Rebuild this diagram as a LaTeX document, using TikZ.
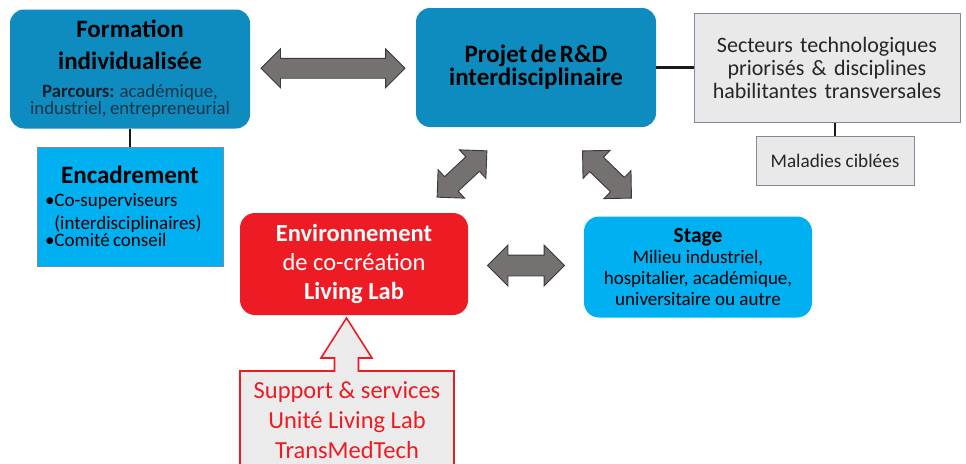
\documentclass[tikz,border=0pt]{standalone}
\usepackage{fontspec}
\setmainfont{Carlito}
\usetikzlibrary{shapes.arrows,calc}

\definecolor{deepblue}{HTML}{0F8CBF}
\definecolor{skyblue}{HTML}{00B0F0}
\definecolor{livered}{HTML}{ED1C24}
\definecolor{panelgrey}{HTML}{E9E9E9}
\definecolor{paneledge}{HTML}{7F8B9C}
\definecolor{arrowgrey}{HTML}{767171}
\definecolor{arrowedge}{HTML}{3B3838}
\definecolor{navyink}{HTML}{0B1F2C}
\definecolor{slateink}{HTML}{133549}
\definecolor{darkink}{HTML}{262626}

\newcommand{\boxtitle}{\fontsize{25}{32}\selectfont\bfseries}
\newcommand{\boxbody}{\fontsize{18.8}{22.5}\selectfont\mdseries}

\tikzset{
  bluebox/.style={rounded corners=14pt, fill=deepblue, minimum width=240pt,
    minimum height=119pt, text width=232pt, align=center, inner sep=0pt},
  greybox/.style={draw=paneledge, fill=panelgrey, line width=1pt,
    align=center, inner sep=0pt},
  blockarrow/.style={double arrow, fill=arrowgrey, draw=arrowedge,
    line width=0.9pt, minimum height=#1, minimum width=0pt,
    inner xsep=0pt, inner ysep=9.5pt, double arrow head extend=9.5pt},
  link/.style={line width=2.4pt, color=black!90}
}

\begin{document}
\begin{tikzpicture}[x=1pt,y=-1pt]
  \useasboundingbox (0,0) rectangle (966,463);

  % top row
  \node[bluebox] (form) at (130,69) {\boxtitle Formation\\individualisée\par
    \vspace{5pt}\boxbody{\color{navyink}\bfseries Parcours:} {\color{slateink}académique,\\industriel, entrepreneurial}};
  \node[bluebox] (proj) at (536,67.5) {\boxtitle Projet de R\&D\\interdisciplinaire};
  \node[greybox, minimum width=266pt, minimum height=109pt, text width=262pt,
    text=darkink, font=\fontsize{22}{23}\selectfont] (sect) at (827,67.5)
    {Secteurs technologiques\\priorisés \& disciplines\\habilitantes transversales};
  \node[greybox, minimum width=158pt, minimum height=49pt, text=darkink,
    font=\fontsize{19.2}{23}\selectfont] (mal) at (835,161) {Maladies ciblées};

  % encadrement
  \node[draw=paneledge, line width=0.8pt, fill=skyblue, minimum width=186pt,
    minimum height=119pt, text width=170pt, inner xsep=8pt, align=left] (enc) at (130,206.5)
    {{\centering\fontsize{25}{28}\selectfont\bfseries Encadrement\par}
     \fontsize{19}{23}\selectfont •Co-superviseurs\\
     \phantom{•}(interdisciplinaires)\\•Comité conseil};

  % bottom row
  \node[rounded corners=15pt, fill=livered, minimum width=228pt, minimum height=102pt,
    text=white, align=center, font=\fontsize{24.5}{29}\selectfont] (env) at (354,264)
    {{\bfseries Environnement}\\de co-création\\{\bfseries Living Lab}};
  \node[rounded corners=15pt, fill=skyblue, minimum width=228pt, minimum height=101pt,
    align=center, font=\fontsize{19}{21}\selectfont] (stage) at (698,267)
    {{\fontsize{21.5}{21}\selectfont\bfseries Stage}\\Milieu industriel,\\hospitalier, académique,\\universitaire ou autre};

  % links
  \draw[link] (proj.east) -- (sect.west);
  \draw[link] (form.south) -- (enc.north);
  \draw[link] (mal.north) -- (mal.north |- sect.south);

  % block arrows
  \node[blockarrow=144pt] (formproj) at ($(form.east)!0.5!(proj.west)$) {};
  \node[blockarrow=68pt, rotate=43] (projenv) at (462,174) {};
  \node[blockarrow=68pt, rotate=-44] (projstage) at (607,174.5) {};
  \node[blockarrow=77pt, inner ysep=10pt, double arrow head extend=10pt] (envstage)
    at ($(env.east)!0.5!(stage.west)$) {};

  % support
  \draw[draw=livered, fill=panelgrey!90!white, line width=1.6pt, line join=miter]
    (240,480) -- (240,371) -- (334.5,371) -- (334.5,358) -- (321,358) -- (346.5,318)
    -- (372,358) -- (358.5,358) -- (358.5,371) -- (454,371) -- (454,480) -- cycle;
  \node[text=livered, align=center, font=\fontsize{24.5}{30}\selectfont] (supp) at (347,420)
    {Support \& services\\Unité Living Lab\\TransMedTech};
\end{tikzpicture}
\end{document}
